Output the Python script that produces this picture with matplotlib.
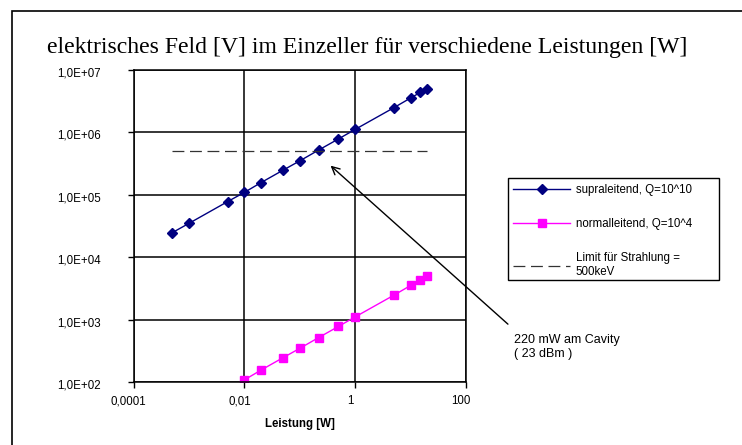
import matplotlib
matplotlib.use("Agg")
import matplotlib.pyplot as plt
import matplotlib.transforms as mtransforms
from matplotlib.ticker import FixedLocator, FuncFormatter, NullLocator
from matplotlib.lines import Line2D
from matplotlib.patches import Rectangle

# ---- data ----
leistung = [0.0005, 0.001, 0.005, 0.01, 0.02, 0.05, 0.1, 0.22, 0.5, 1, 5, 10, 15, 20]
supraleitend = [2.45e4, 3.45e4, 7.7e4, 1.08e5, 1.55e5, 2.45e5, 3.45e5, 5.15e5, 7.75e5,
                1.1e6, 2.45e6, 3.5e6, 4.3e6, 4.9e6]
normalleitend = [24.5, 34.5, 77, 108, 155, 245, 345, 515, 775,
                 1100, 2450, 3500, 4300, 4900]
limit_x = [0.0005, 20]
limit_y = [5e5, 5e5]
x_ticks = [0.0001, 0.01, 1, 100]
x_ticklabels = ["0,0001", "0,01", "1", "100"]
y_ticks = [1e2, 1e3, 1e4, 1e5, 1e6, 1e7]
y_ticklabels = ["1,0E+02", "1,0E+03", "1,0E+04", "1,0E+05", "1,0E+06", "1,0E+07"]

W, H = 742, 445
FS = 8.3
DASH = (0, (9.5, 4.5))
fig = plt.figure(figsize=(W / 100, H / 100), dpi=100)
fig.patch.set_facecolor("white")

def fx(px):
    return px / W

def fy(py):
    return 1 - py / H

# outer chart border (left/top visible)
fig.add_artist(Rectangle((fx(12), -0.05), 1.2, fy(11) + 0.05, transform=fig.transFigure,
                         fill=False, edgecolor="black", linewidth=1.2))

left, right, top, bottom = 133.5, 466, 69.5, 382
ax = fig.add_axes([fx(left), fy(bottom), (right - left) / W, (bottom - top) / H])
ax.set_xscale("log")
ax.set_yscale("log")
ax.set_xlim(1e-4, 100)
ax.set_ylim(1e2, 1e7)

ax.plot(leistung, supraleitend, color="#000080", marker="D", markersize=5,
        linewidth=1, label="supraleitend, Q=10^10")
ax.plot(leistung, normalleitend, color="#FF00FF", marker="s", markersize=5.5,
        linewidth=1, label="normalleitend, Q=10^4")
ax.plot(limit_x, limit_y, color="#333333", linestyle=DASH, linewidth=0.9,
        label="Limit für Strahlung =\n500keV")

ax.xaxis.set_major_locator(FixedLocator(x_ticks))
ax.xaxis.set_minor_locator(NullLocator())
ax.yaxis.set_major_locator(FixedLocator(y_ticks))
ax.yaxis.set_minor_locator(NullLocator())
ax.xaxis.set_major_formatter(FuncFormatter(
    lambda v, p: x_ticklabels[min(range(len(x_ticks)), key=lambda i: abs(x_ticks[i] - v))]))
ax.yaxis.set_major_formatter(FuncFormatter(
    lambda v, p: y_ticklabels[min(range(len(y_ticks)), key=lambda i: abs(y_ticks[i] - v))]))
ax.grid(True, color="black", linewidth=1.1)
ax.set_axisbelow(True)
for s in ax.spines.values():
    s.set_linewidth(1.1)
ax.tick_params(axis="both", direction="out", length=4.5, width=1, labelsize=FS,
               colors="black")
ax.tick_params(axis="x", pad=5)
ax.tick_params(axis="y", pad=19)
for lab in ax.get_xticklabels() + ax.get_yticklabels():
    lab.set_family("Liberation Sans")
shift_x = mtransforms.ScaledTranslation(-5 / 100, 0, fig.dpi_scale_trans)
for lab in ax.get_xticklabels():
    lab.set_transform(lab.get_transform() + shift_x)
shift_y = mtransforms.ScaledTranslation(0, -2 / 100, fig.dpi_scale_trans)
for lab in ax.get_yticklabels():
    lab.set_transform(lab.get_transform() + shift_y)
ax.set_xlabel("Leistung [W]", fontsize=FS, fontweight="bold", family="Liberation Sans",
              labelpad=8)

# mask clipping top of the topmost y label, as in the original
fig.add_artist(Rectangle((fx(40), fy(66.5)), (110 - 40) / W, 10 / H, transform=fig.transFigure,
                         facecolor="white", edgecolor="none", zorder=5))

# title
fig.text(fx(47), fy(53), "elektrisches Feld [V] im Einzeller für verschiedene Leistungen [W]",
         fontsize=17.1, family="Liberation Serif", ha="left", va="baseline", zorder=6)

# legend
handles = [
    Line2D([], [], color="#000080", marker="D", markersize=5, linewidth=1),
    Line2D([], [], color="#FF00FF", marker="s", markersize=5.5, linewidth=1),
    Line2D([], [], color="#333333", linestyle=DASH, linewidth=0.9),
]
labels = ["supraleitend, Q=10^10", "normalleitend, Q=10^4", "Limit für Strahlung =\n500keV"]
leg = fig.legend(handles, labels, loc="upper left", bbox_to_anchor=(fx(513), fy(184.5)),
                 bbox_transform=fig.transFigure, frameon=False,
                 handlelength=4.95, handletextpad=0.5, labelspacing=1.9,
                 borderpad=0, borderaxespad=0, prop={"family": "Liberation Sans", "size": FS})
fig.add_artist(Rectangle((fx(508), fy(280)), (719 - 508) / W, (280 - 178) / H,
                         transform=fig.transFigure, fill=False, edgecolor="black", linewidth=1))

# annotation
ax.annotate("", xy=(0.33, 3.1e5), xycoords="data",
            xytext=(fx(510), fy(326)), textcoords="figure fraction",
            arrowprops=dict(arrowstyle="->", color="black", lw=1, mutation_scale=14),
            annotation_clip=False)
fig.text(fx(514), fy(357), "220 mW am Cavity\n( 23 dBm )", fontsize=9,
         family="Liberation Sans", ha="left", va="baseline", linespacing=1.25)

fig.savefig("out.png", dpi=100)
